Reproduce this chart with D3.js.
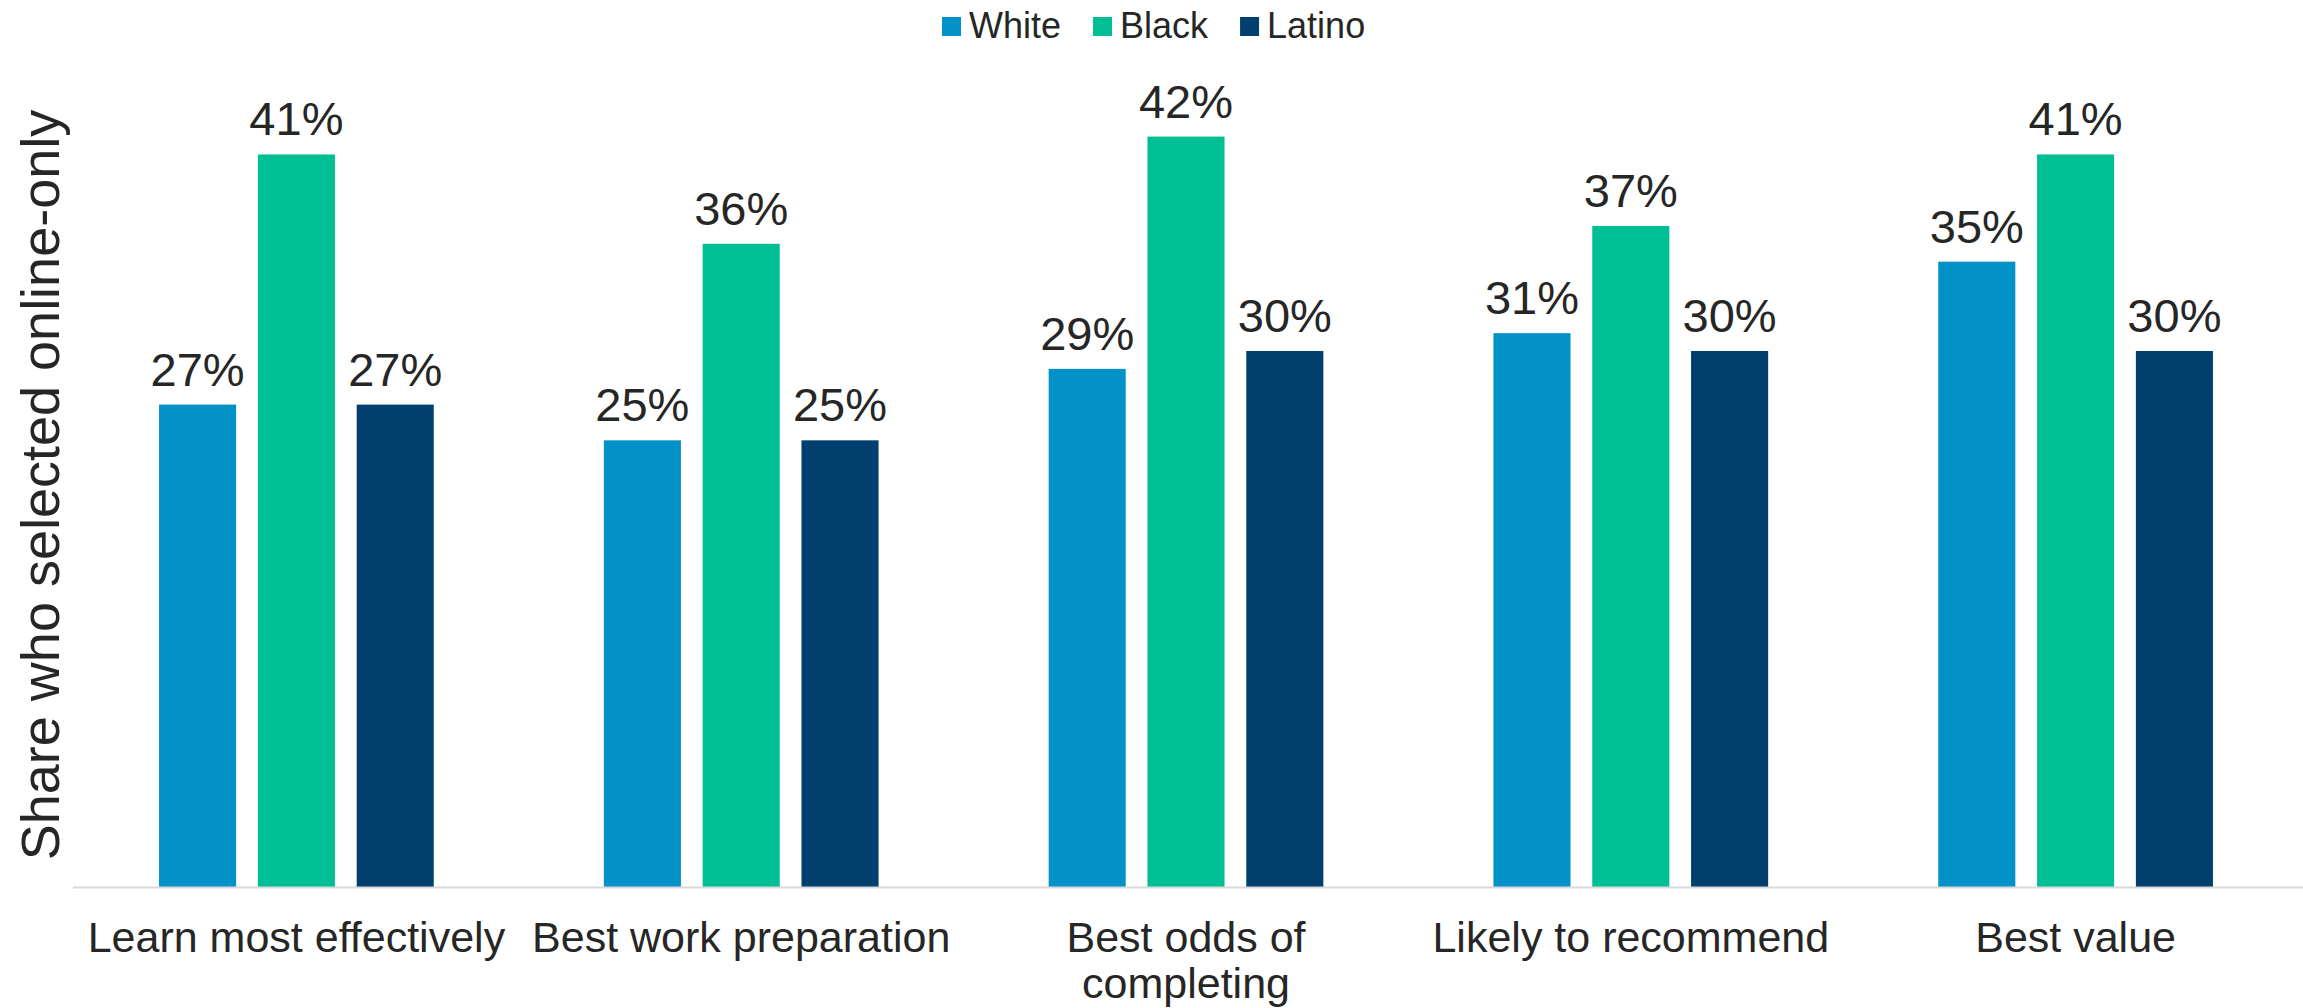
<!DOCTYPE html>
<html>
<head>
<meta charset="utf-8">
<script src="https://cdn.jsdelivr.net/npm/d3@7"></script>
<style>
  html, body { margin: 0; padding: 0; background: #fff; }
  svg { display: block; font-family: "Liberation Sans", Arial, sans-serif; }
</style>
</head>
<body>
<div id="graph"></div>
<script>
const width = 2303, height = 1008;

const categories = ["Learn most effectively", "Best work preparation", "Best odds of completing", "Likely to recommend", "Best value"];
const groups = ["White", "Black", "Latino"];
const white = [27, 25, 29, 31, 35];
const black = [41, 36, 42, 37, 41];
const latino = [27, 25, 30, 30, 30];
const colors = ["#0392c8", "#00bf94", "#003f6e"];

const series = [white, black, latino];
const table = categories.map((c, i) => ({
  category: c,
  values: groups.map((g, j) => ({ group: g, value: series[j][i] }))
}));

const svg = d3.select("#graph").
append("svg").
attr("width", width).
attr("height", height);

const x0 = d3.scaleBand().
domain(categories).
range([74, 2298]).
paddingInner(0.3824).
paddingOuter(0.1912);

const x1 = d3.scaleBand().
domain(groups).
range([0, x0.bandwidth()]).
paddingInner(0.22);

const y = d3.scaleLinear().
domain([0, 45]).
range([887, 83]);

const color = d3.scaleOrdinal().domain(groups).range(colors);

// bars
const cat = svg.selectAll(".cat").
data(table).
enter().
append("g").
attr("class", "cat").
attr("transform", d => "translate(" + x0(d.category) + ",0)");

cat.selectAll("rect").
data(d => d.values).
enter().
append("rect").
attr("x", d => x1(d.group)).
attr("y", d => y(d.value)).
attr("width", x1.bandwidth()).
attr("height", d => y(0) - y(d.value)).
style("fill", d => color(d.group));

cat.selectAll(".val").
data(d => d.values).
enter().
append("text").
attr("class", "val").
attr("x", d => x1(d.group) + x1.bandwidth() / 2).
attr("y", d => y(d.value) - 19).
attr("text-anchor", "middle").
style("font-size", "47px").
style("fill", "#262626").
text(d => d.value + "%");

// x axis
const xAxis = d3.axisBottom(x0).tickSize(0).tickPadding(0);
const gx = svg.append("g").
attr("transform", "translate(0," + y(0) + ")").
call(xAxis);
gx.select(".domain").
attr("d", "M73,0.5H2303").
style("stroke", "#d9d9d9").
style("stroke-width", 2);
gx.selectAll(".tick text").
style("font-size", "43px").
style("font-family", "'Liberation Sans', Arial, sans-serif").
style("fill", "#262626").
attr("y", 65).
attr("dy", 0).
call(wrap, 440);

function wrap(sel, w) {
  sel.each(function () {
    const t = d3.select(this);
    const words = t.text().split(" ");
    t.text(null);
    let line = [];
    let ts = t.append("tspan").attr("x", 0).attr("y", 65);
    let n = 0;
    words.forEach(word => {
      line.push(word);
      ts.text(line.join(" "));
      if (ts.node().getComputedTextLength() > w && line.length > 1) {
        line.pop();
        ts.text(line.join(" "));
        line = [word];
        n++;
        ts = t.append("tspan").attr("x", 0).attr("y", 65 + n * 46).text(word);
      }
    });
  });
}

// y title
svg.append("text").
attr("transform", "translate(59," + 485 + ") rotate(-90)").
attr("text-anchor", "middle").
style("font-size", "54px").
style("fill", "#262626").
text("Share who selected online-only");

// legend
const legend = svg.append("g").attr("transform", "translate(942,0)");
let lx = 0;
groups.forEach((g, i) => {
  const item = legend.append("g").attr("transform", "translate(" + lx + ",0)");
  item.append("rect").
  attr("x", 0).
  attr("y", 17).
  attr("width", 19).
  attr("height", 19).
  style("fill", color(g));
  const t = item.append("text").
  attr("x", 27).
  attr("y", 38).
  style("font-size", "36px").
  style("fill", "#262626").
  text(g);
  lx += 27 + t.node().getComputedTextLength() + 32;
});
</script>
</body>
</html>
